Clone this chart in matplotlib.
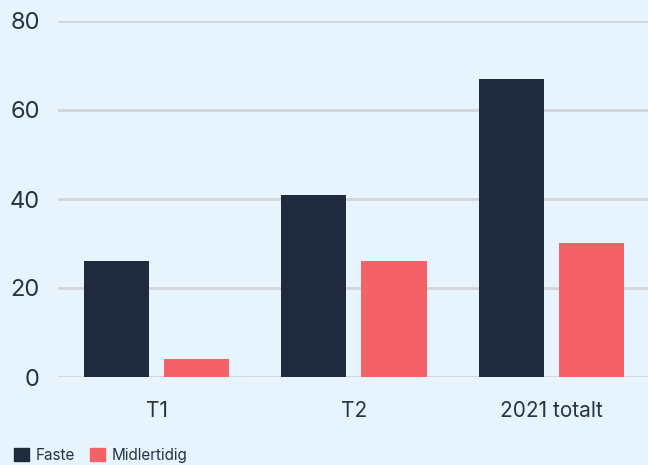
import numpy as np
import matplotlib.pyplot as plt
from matplotlib.patches import Patch

# data
categories = ['T1', 'T2', '2021 totalt']
faste = [26, 41, 67]
midlertidig = [4, 26, 30]
series_names = ['Faste', 'Midlertidig']

bg = '#E8F4FD'
dark = '#1F2B3D'
red = '#F46166'
text_col = '#263245'

plt.rcParams['font.family'] = ['Inter', 'DejaVu Sans']

fig = plt.figure(figsize=(6.48, 4.65), dpi=100, facecolor=bg)
ax = fig.add_axes([58/648, 1 - 377/465, 1 - 58/648, 356/465])
ax.set_facecolor(bg)

x = np.arange(len(categories))
w = 0.33
off = 0.203
ax.bar(x - off, faste, width=w, color=dark, zorder=3)
ax.bar(x + off, midlertidig, width=w, color=red, zorder=3)

ax.set_xlim(-0.5, 2.49)
ax.set_ylim(0, 80)
ax.set_yticks([0, 20, 40, 60, 80])
ax.yaxis.grid(True, color='#D0D5DA', linewidth=2, zorder=0)
ax.set_axisbelow(True)
for s in ax.spines.values():
    s.set_visible(False)
ax.tick_params(axis='both', length=0, colors=text_col)
ax.tick_params(axis='y', pad=13, labelsize=17)
ax.tick_params(axis='x', pad=17, labelsize=15)
ax.set_xticks(x)
ax.set_xticklabels(categories)

handles = [Patch(color=dark), Patch(color=red)]
fig.legend(handles, series_names, loc='lower left', bbox_to_anchor=(0.0, -0.025),
           ncol=2, frameon=False, fontsize=11, labelcolor=text_col,
           handlelength=1.0, handleheight=1.0, handletextpad=0.4, columnspacing=1.0)

fig.savefig('out.png', dpi=100, facecolor=bg)
